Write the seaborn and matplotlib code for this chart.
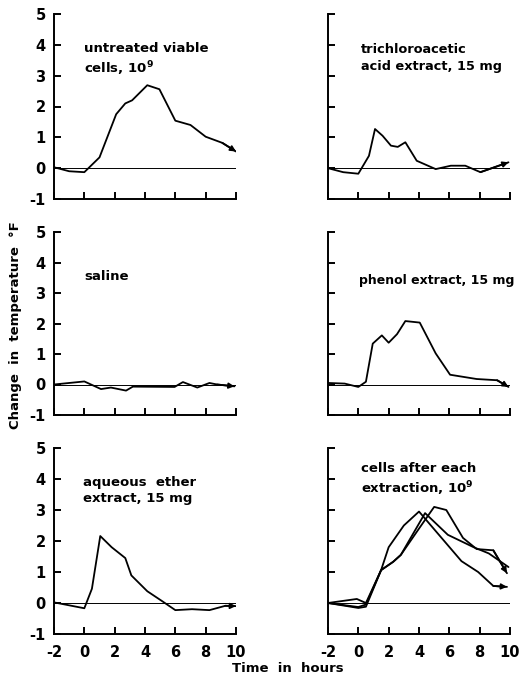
import numpy as np
import pandas as pd
import matplotlib
matplotlib.use("Agg")
import matplotlib.pyplot as plt
import seaborn as sns

sns.set_style("ticks")
plt.rcParams["font.family"] = ["DejaVu Sans"]
plt.rcParams["axes.unicode_minus"] = False
for key in ["text.color", "axes.labelcolor", "xtick.color", "ytick.color", "axes.edgecolor"]:
    plt.rcParams[key] = "black"

# ---------------- data (hours, change in temperature °F) ----------------
untreated_t = [-2, -1.0, 0.0, 1.0, 2.1, 2.7, 3.15, 4.15, 4.95, 6.0, 7.0, 8.0, 9.1, 10.0]
untreated_v = [0.03, -0.1, -0.13, 0.35, 1.75, 2.1, 2.2, 2.69, 2.56, 1.54, 1.4, 1.02, 0.82, 0.54]

tca_t = [-2, -1.0, 0.0, 0.7, 1.1, 1.6, 2.15, 2.6, 3.1, 3.85, 5.1, 6.1, 7.05, 8.05, 9.9]
tca_v = [0.0, -0.13, -0.18, 0.4, 1.27, 1.05, 0.73, 0.69, 0.84, 0.24, -0.03, 0.08, 0.08, -0.13, 0.19]

saline_t = [-2, 0.0, 1.1, 1.75, 2.75, 3.2, 5.95, 6.5, 7.45, 8.25, 8.75, 9.9]
saline_v = [0.0, 0.1, -0.15, -0.1, -0.2, -0.07, -0.08, 0.08, -0.1, 0.05, 0.0, -0.06]

phenol_t = [-2, -0.9, 0.0, 0.5, 0.95, 1.55, 2.0, 2.55, 3.1, 4.05, 5.1, 6.05, 7.8, 9.15, 9.9]
phenol_v = [0.05, 0.03, -0.08, 0.09, 1.34, 1.61, 1.37, 1.65, 2.08, 2.03, 1.02, 0.32, 0.18, 0.14, -0.08]

aqueous_t = [-2, 0.0, 0.5, 1.05, 1.8, 2.7, 3.1, 4.15, 5.1, 6.0, 7.1, 8.25, 9.3, 10.0]
aqueous_v = [0.02, -0.17, 0.46, 2.16, 1.8, 1.45, 0.89, 0.38, 0.07, -0.23, -0.2, -0.23, -0.09, -0.1]

cellsA_t = [-2, 0.0, 0.5, 1.5, 2.0, 3.0, 4.0, 6.8, 7.9, 8.9, 9.8]
cellsA_v = [0.0, -0.13, -0.05, 1.06, 1.8, 2.5, 2.95, 1.35, 1.0, 0.55, 0.52]
cellsB_t = [-2, 0.0, 0.5, 1.5, 2.3, 2.8, 4.0, 5.0, 5.8, 6.9, 7.8, 8.9, 9.8]
cellsB_v = [0.0, -0.16, -0.12, 1.06, 1.33, 1.55, 2.4, 3.1, 3.0, 2.1, 1.74, 1.7, 0.96]
cellsC_t = [-2, -0.1, 0.5, 1.5, 2.3, 2.8, 4.4, 5.9, 7.6, 8.6, 9.9]
cellsC_v = [0.0, 0.13, 0.0, 1.06, 1.33, 1.55, 2.9, 2.2, 1.8, 1.6, 1.16]

labels = [
    "untreated viable\ncells, 10$^{\\mathbf{9}}$",
    "trichloroacetic\nacid extract, 15 mg",
    "saline",
    "phenol extract, 15 mg",
    "aqueous  ether\nextract, 15 mg",
    "cells after each\nextraction, 10$^{\\mathbf{9}}$",
]
label_pos = [(0.0, 4.1), (0.2, 4.05), (0.0, 3.75), (0.05, 3.63), (-0.1, 4.1), (0.15, 4.55)]
label_size = [9.5, 9.3, 9.5, 9.0, 9.5, 9.5]

x_ticks = [-2, 0, 2, 4, 6, 8, 10]
y_ticks = [-1, 0, 1, 2, 3, 4, 5]

panels = [
    [(untreated_t, untreated_v, True)],
    [(tca_t, tca_v, True)],
    [(saline_t, saline_v, True)],
    [(phenol_t, phenol_v, True)],
    [(aqueous_t, aqueous_v, True)],
    [(cellsA_t, cellsA_v, True), (cellsB_t, cellsB_v, True), (cellsC_t, cellsC_v, False)],
]

# ---------------- layout ----------------
W, H = 519, 678
fig = plt.figure(figsize=(W / 100, H / 100), dpi=100)
col_left = [54, 328]
col_w = 182
rows = [(14, 199), (232, 415), (448, 634)]

for i, traces in enumerate(panels):
    r, c = divmod(i, 2)
    top, bot = rows[r]
    ax = fig.add_axes([col_left[c] / W, 1 - bot / H, col_w / W, (bot - top) / H])

    frames = []
    for k, (t, v, _) in enumerate(traces):
        frames.append(pd.DataFrame({"time": t, "change": v, "trace": k}))
    df = pd.concat(frames, ignore_index=True)

    ax.axhline(0, color="black", lw=0.7, zorder=1)
    sns.lineplot(data=df, x="time", y="change", units="trace", estimator=None,
                 sort=False, color="black", lw=1.3, ax=ax, zorder=3)
    for t, v, arrow in traces:
        if arrow:
            ax.annotate("", xy=(t[-1], v[-1]), xytext=(t[-2], v[-2]),
                        arrowprops=dict(arrowstyle="-|>", color="black", lw=1.3,
                                        mutation_scale=8, shrinkA=0, shrinkB=0))

    lx, ly = label_pos[i]
    ax.text(lx, ly, labels[i], fontsize=label_size[i], fontweight="bold", va="top",
            ha="left", linespacing=1.35)

    ax.set_xlim(-2, 10)
    ax.set_ylim(-1, 5)
    ax.set_xticks(x_ticks)
    ax.set_yticks(y_ticks)
    sns.despine(ax=ax)
    for s in ["left", "bottom"]:
        ax.spines[s].set_linewidth(1.4)
    ax.tick_params(direction="in", length=5, width=1.4, labelsize=10.5)
    ax.tick_params(axis="y", pad=6)
    ax.tick_params(axis="x", pad=8)
    ax.set_xlabel("")
    ax.set_ylabel("")
    if c == 1:
        ax.set_yticklabels([])
    else:
        ax.set_yticklabels([str(y) for y in y_ticks], fontweight="bold")
    if r < 2:
        ax.set_xticklabels([])
    else:
        ax.set_xticklabels([str(x) for x in x_ticks], fontweight="bold")

fig.text(16 / W, 1 - 325 / H, "Change  in  temperature  °F", rotation=90,
         fontsize=9.5, fontweight="bold", ha="center", va="center")
fig.text(288 / W, 1 - 668 / H, "Time  in  hours", fontsize=9.5, fontweight="bold",
         ha="center", va="center")

fig.savefig("out.png", dpi=100, facecolor="white")
